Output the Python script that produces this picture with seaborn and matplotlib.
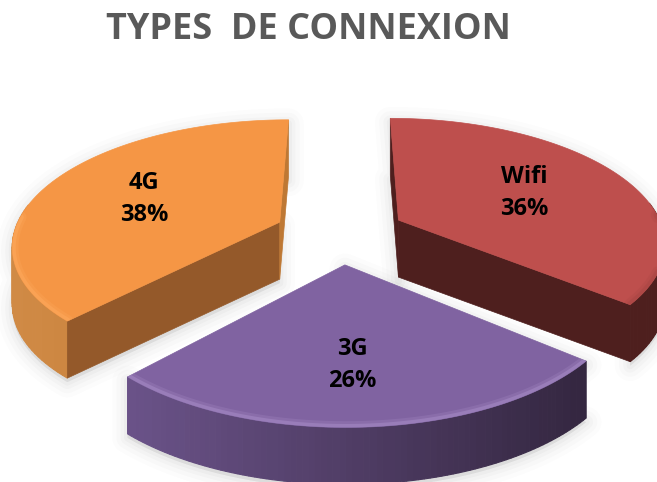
import numpy as np
import matplotlib
matplotlib.use("Agg")
import matplotlib.pyplot as plt
from matplotlib.patches import Polygon
from matplotlib.path import Path
import seaborn as sns

# --- data ---
categories = ["Wifi", "3G", "4G"]
shares = [36, 26, 38]
title_text = "TYPES  DE CONNEXION"

# --- style ---
top_colors = ["#BE4F4D", "#8063A1", "#F59645"]
cut_colors = ["#4E1F1E", "#33263F", "#94592A"]
arc_left = ["#4E1F1E", "#6A5288", "#D08A45"]
arc_right = ["#4E1F1E", "#33263F", "#BE7834"]
rim_colors = ["#A84644", "#A88EC8", "#FDAA5E"]

# --- layout ---
explode = [(0.22, 0.155), (0.014, -0.2), (-0.234, 0.138)]
label_xy = [(524, 193), (352, 365), (144, 199)]
U0, V0, F, G, K, DEPTH = 341, 239, 268, 125, 0.17, 57

sns.set_theme(style="white")
plt.rcParams["font.family"] = ["Open Sans", "DejaVu Sans"]


def project(x, y):
    w = 1 + K * y
    return U0 + F * x / w, V0 - G * y / w


fig = plt.figure(figsize=(6.57, 4.82), dpi=100)
ax = fig.add_axes([0, 0, 1, 1])
ax.set_xlim(0, 657)
ax.set_ylim(482, 0)
ax.axis("off")

edges = 90 - np.cumsum([0] + shares) / sum(shares) * 360
for i, name in enumerate(categories):
    th = np.radians(np.linspace(edges[i], edges[i + 1], 90))
    ex, ey = explode[i]
    au, av = project(ex, ey)
    u, v = project(ex + np.cos(th), ey + np.sin(th))
    top = np.column_stack([np.r_[au, u], np.r_[av, v]])
    # soft shadow of the whole block
    sil = np.vstack([top, np.column_stack([u[::-1], v[::-1] + DEPTH]),
                     [[au, av + DEPTH]]])
    for lw, a in zip((22, 16, 10, 5), (0.02, 0.03, 0.04, 0.05)):
        ax.fill(sil[:, 0], sil[:, 1] + 4, color="#7F7F7F", alpha=a, lw=lw, zorder=1,
                joinstyle="round")
    # outer rim, with a horizontal gradient; only its front part can be seen
    ramp = sns.blend_palette([arc_left[i], arc_right[i]], 60)
    for a, b in zip(range(len(u) - 1), range(1, len(u))):
        if np.sin(0.5 * (th[a] + th[b])) > 0.15:
            continue
        frac = np.clip((0.5 * (u[a] + u[b]) - u.min()) / (u.max() - u.min()), 0, 1)
        col = ramp[int(frac * 59)]
        ax.fill([u[a], u[b], u[b], u[a]], [v[a], v[b], v[b] + DEPTH, v[a] + DEPTH],
                facecolor=col, edgecolor=col, lw=0.8, zorder=2 + i * 3)
    # straight cut faces, only where they face the viewer
    shape = Path(top)
    for eu, ev in ((u[0], v[0]), (u[-1], v[-1])):
        probe = (0.5 * (au + eu), 0.5 * (av + ev) + 4)
        if not shape.contains_point(probe):
            near_vertical = abs(eu - au) < 30
            col = arc_right[i] if near_vertical else cut_colors[i]
            ax.fill([au, eu, eu, au], [av, ev, ev + DEPTH, av + DEPTH],
                    color=col, lw=0.5, zorder=3 + i * 3)
    ax.fill(top[:, 0], top[:, 1], color=top_colors[i], lw=0.5, zorder=4 + i * 3)
    # bevel along the front of the outer edge, kept inside the top face
    clip = Polygon(top, closed=True, transform=ax.transData)
    front = np.sin(th) < 0.05
    for lw, a in ((9, 0.25), (5, 0.5)):
        line, = ax.plot(u[front], v[front], color=rim_colors[i], lw=lw, alpha=a,
                        solid_capstyle="round", zorder=4.5 + i * 3)
        line.set_clip_path(clip)
    ax.text(*label_xy[i], f"{name}\n{shares[i]}%", ha="center", va="center",
            fontsize=17, fontweight="bold", color="black", linespacing=1.45, zorder=20)

ax.text(308, 30, title_text, ha="center", va="center", fontsize=25.9,
        fontweight="bold", color="#595959", zorder=20)

fig.savefig("out.png", dpi=100, facecolor="white")
